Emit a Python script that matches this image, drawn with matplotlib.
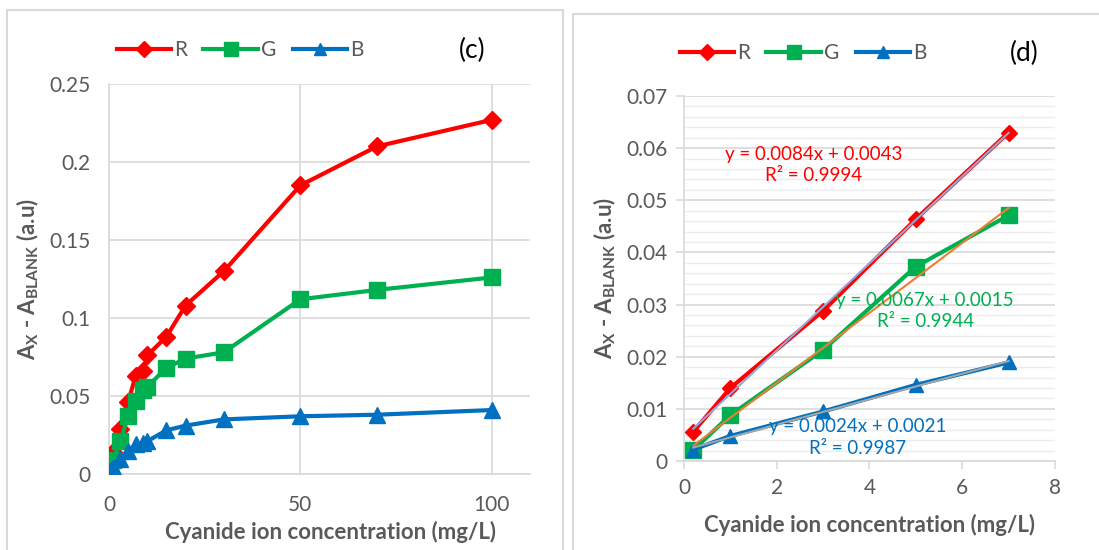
import numpy as np
import matplotlib.pyplot as plt
from matplotlib.patches import Rectangle
from matplotlib.lines import Line2D

plt.rcParams['font.family'] = ['Lato', 'DejaVu Sans']
plt.rcParams['mathtext.fontset'] = 'custom'
plt.rcParams['mathtext.bf'] = 'Lato:bold'
plt.rcParams['mathtext.rm'] = 'Lato'

# Panel (c): full concentration range
conc_c = [0.2, 1, 3, 5, 7, 9, 10, 15, 20, 30, 50, 70, 100]
red_c = [0.0056, 0.014, 0.0288, 0.0464, 0.063, 0.066, 0.076, 0.088, 0.108, 0.130, 0.185, 0.210, 0.227]
green_c = [0.0021, 0.0088, 0.0213, 0.0373, 0.0471, 0.054, 0.056, 0.068, 0.074, 0.078, 0.112, 0.118, 0.126]
blue_c = [0.0022, 0.0048, 0.0095, 0.0146, 0.019, 0.020, 0.021, 0.028, 0.031, 0.035, 0.037, 0.038, 0.041]

# Panel (d): linear range
conc_d = [0.2, 1, 3, 5, 7]
red_d = [0.0056, 0.0140, 0.0288, 0.0464, 0.0630]
green_d = [0.0021, 0.0088, 0.0213, 0.0373, 0.0471]
blue_d = [0.0022, 0.0048, 0.0095, 0.0146, 0.0189]

eq_labels = ["y = 0.0084x + 0.0043\nR² = 0.9994",
             "y = 0.0067x + 0.0015\nR² = 0.9944",
             "y = 0.0024x + 0.0021\nR² = 0.9987"]

RED, GREEN, BLUE = '#FF0000', '#00B050', '#0070C0'
TREND = ['#8FAADC', '#ED7D31', '#A5A5A5']
GRAY = '#595959'
GRID = '#D9D9D9'

styles = [('R', RED, 'D', 9.5), ('G', GREEN, 's', 12), ('B', BLUE, '^', 11)]

fig = plt.figure(figsize=(10.99, 5.5), dpi=100)

# panel frames
fig.patches.append(Rectangle((7 / 1099, -0.01), 556 / 1099, 1 - 10 / 550 + 0.01,
                             transform=fig.transFigure, fill=False, ec=GRID, lw=1.5))
fig.patches.append(Rectangle((573 / 1099, -0.01), 0.5, 1 - 14 / 550 + 0.01,
                             transform=fig.transFigure, fill=False, ec=GRID, lw=1.5))

ylab = r'A$_\mathbf{X}$ - A$_\mathbf{BLANK}$ (a.u)'
xlab = 'Cyanide ion concentration (mg/L)'


def style_axes(ax):
    for s in ['top', 'right']:
        ax.spines[s].set_visible(False)
    for s in ['left', 'bottom']:
        ax.spines[s].set_color(GRID)
        ax.spines[s].set_linewidth(1.2)
    ax.tick_params(colors=GRAY, labelsize=15, length=0, pad=8)
    ax.set_xlabel(xlab, fontsize=16, fontweight='bold', color=GRAY, labelpad=8)
    ax.set_ylabel(ylab, fontsize=16, fontweight='bold', color=GRAY, labelpad=6)


def fmt(v, pos):
    return ('%.2f' % v).rstrip('0').rstrip('.') if v != 0 else '0'


# ---- panel (c)
ax1 = fig.add_axes([109 / 1099, 76 / 550, 421 / 1099, 390 / 550])
for (lab, col, mk, ms), ys in zip(styles, [red_c, green_c, blue_c]):
    ax1.plot(conc_c, ys, color=col, marker=mk, ms=ms, lw=3, label=lab, zorder=3)
ax1.set_xlim(0, 110)
ax1.set_ylim(0, 0.25)
ax1.set_xticks([0, 50, 100])
ax1.set_yticks(np.arange(0, 0.251, 0.05))
ax1.yaxis.set_major_formatter(plt.FuncFormatter(fmt))
ax1.grid(True, color=GRID, lw=1.2)
ax1.set_axisbelow(True)
style_axes(ax1)
ax1.tick_params(axis='x', pad=15)
ax1.tick_params(axis='y', pad=13)
ax1.xaxis.set_label_coords(0.527, -0.12)

# ---- panel (d)
ax2 = fig.add_axes([684 / 1099, 89 / 550, 371 / 1099, 365 / 550])
for (lab, col, mk, ms), ys in zip(styles, [red_d, green_d, blue_d]):
    ax2.plot(conc_d, ys, color=col, marker=mk, ms=ms - 1, lw=3, label=lab, zorder=3)
for ys, tc in zip([red_d, green_d, blue_d], TREND):
    k, b = np.polyfit(conc_d, ys, 1)
    xx = np.array([conc_d[0], conc_d[-1]])
    ax2.plot(xx, k * xx + b, color=tc, lw=1.5, zorder=4)
ax2.set_xlim(0, 8)
ax2.set_ylim(0, 0.07)
ax2.set_xticks(np.arange(0, 9, 2))
ax2.set_yticks(np.arange(0, 0.0701, 0.01))
ax2.set_yticks(np.arange(0, 0.0701, 0.002), minor=True)
ax2.yaxis.set_major_formatter(plt.FuncFormatter(fmt))
ax2.grid(True, axis='y', which='major', color=GRID, lw=1.2)
ax2.grid(True, axis='y', which='minor', color='#EDEDED', lw=1)
ax2.set_axisbelow(True)
style_axes(ax2)
ax2.tick_params(which='major', length=6, color=GRID, width=1.2, pad=6)
ax2.tick_params(which='minor', length=0)
ax2.xaxis.labelpad = 12

# trendline equations
eq_pos = [(2.8, 0.0568), (5.2, 0.0287), (3.75, 0.0045)]
for (lab, col, mk, ms), txt, (ex, ey) in zip(styles, eq_labels, eq_pos):
    ax2.text(ex, ey, txt, color=col, fontsize=13.5, ha='center', va='center',
             linespacing=1.3, zorder=5)

# legends and panel labels
handles = [Line2D([], [], color=c, marker=m, ms=ms * 0.85, lw=3) for _, c, m, ms in styles]
names = [s[0] for s in styles]
fig.legend(handles, names, loc='center', bbox_to_anchor=(240 / 1099, 1 - 50 / 550),
           ncol=3, frameon=False, fontsize=15, handlelength=2.6, handletextpad=0.15,
           columnspacing=0.8, labelcolor=GRAY)
fig.legend(handles, names, loc='center', bbox_to_anchor=(803 / 1099, 1 - 53 / 550),
           ncol=3, frameon=False, fontsize=15, handlelength=2.6, handletextpad=0.15,
           columnspacing=0.8, labelcolor=GRAY)
fig.text(472 / 1099, 1 - 50 / 550, '(c)', fontsize=19, ha='center', va='center')
fig.text(1024 / 1099, 1 - 53 / 550, '(d)', fontsize=19, ha='center', va='center')

fig.savefig('out.png', dpi=100)
